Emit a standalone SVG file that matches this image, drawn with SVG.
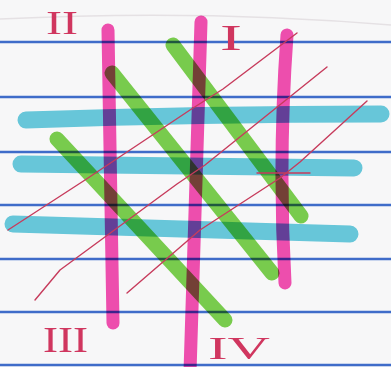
<svg xmlns="http://www.w3.org/2000/svg" width="391" height="367" viewBox="0 0 391 367">
<style>
.rule{stroke:#3f6cc9;stroke-width:2.4;fill:none}
.hl{fill:none;stroke-linecap:round;stroke-linejoin:round;mix-blend-mode:multiply}
.pink{stroke:#f550b2;stroke-width:13}
.cyan{stroke:#50c4da;stroke-width:17;opacity:0.85}
.green{stroke:#5fc828;stroke-width:15;opacity:0.82}
.pen{fill:none;stroke:#c73b5c;stroke-width:1.4;stroke-linecap:round;stroke-linejoin:round}
.lbl{font-family:"Liberation Serif",serif;fill:#d0365f}
</style>
<rect width="391" height="367" fill="#f7f7f8"/>
<path d="M0,19 Q200,9 391,25" fill="none" stroke="#e5e1e4" stroke-width="1.5"/>
<g id="rules">
<line class="rule" x1="0" y1="42" x2="391" y2="42"/>
<line class="rule" x1="0" y1="97" x2="391" y2="97"/>
<line class="rule" x1="0" y1="152" x2="391" y2="152"/>
<line class="rule" x1="0" y1="205" x2="391" y2="205"/>
<line class="rule" x1="0" y1="259" x2="391" y2="259"/>
<line class="rule" x1="0" y1="312" x2="391" y2="312"/>
<line class="rule" x1="0" y1="365" x2="391" y2="365"/>
</g>
<g id="pink-strokes">
<path class="hl pink" d="M108,30 L113,323"/>
<path class="hl pink" d="M201,22 Q196,200 190,372"/>
<path class="hl pink" d="M287,35 Q278,160 285,283"/>
</g>
<g id="cyan-strokes">
<path class="hl cyan" d="M26,120 Q200,114 381,114"/>
<path class="hl cyan" d="M21,164 L354,168"/>
<path class="hl cyan" d="M13,224 Q200,230 350,234"/>
</g>
<g id="green-strokes">
<path class="hl green" d="M173,45 L301,216"/>
<path class="hl green" d="M112,73 L272,273"/>
<path class="hl green" d="M57,139 L225,320"/>
</g>
<g id="pen-lines">
<path class="pen" d="M297,33 L223,89 L190,110 L85,180 L8,230"/>
<path class="pen" d="M327,67 L205,165 L177,184 L60,270 L35,300"/>
<path class="pen" d="M367,101 L300,162 L280,178 L200,230 L127,293"/>
<path class="pen" d="M257,173 L310,173"/>
</g>
<g id="labels">
<text class="lbl" x="46" y="34" font-size="34" textLength="32" lengthAdjust="spacingAndGlyphs">II</text>
<text class="lbl" x="220" y="50" font-size="36" textLength="22" lengthAdjust="spacingAndGlyphs">I</text>
<text class="lbl" x="43" y="352" font-size="36" textLength="45" lengthAdjust="spacingAndGlyphs">III</text>
<text class="lbl" x="208" y="359" font-size="31" textLength="62" lengthAdjust="spacingAndGlyphs">IV</text>
</g>
</svg>
